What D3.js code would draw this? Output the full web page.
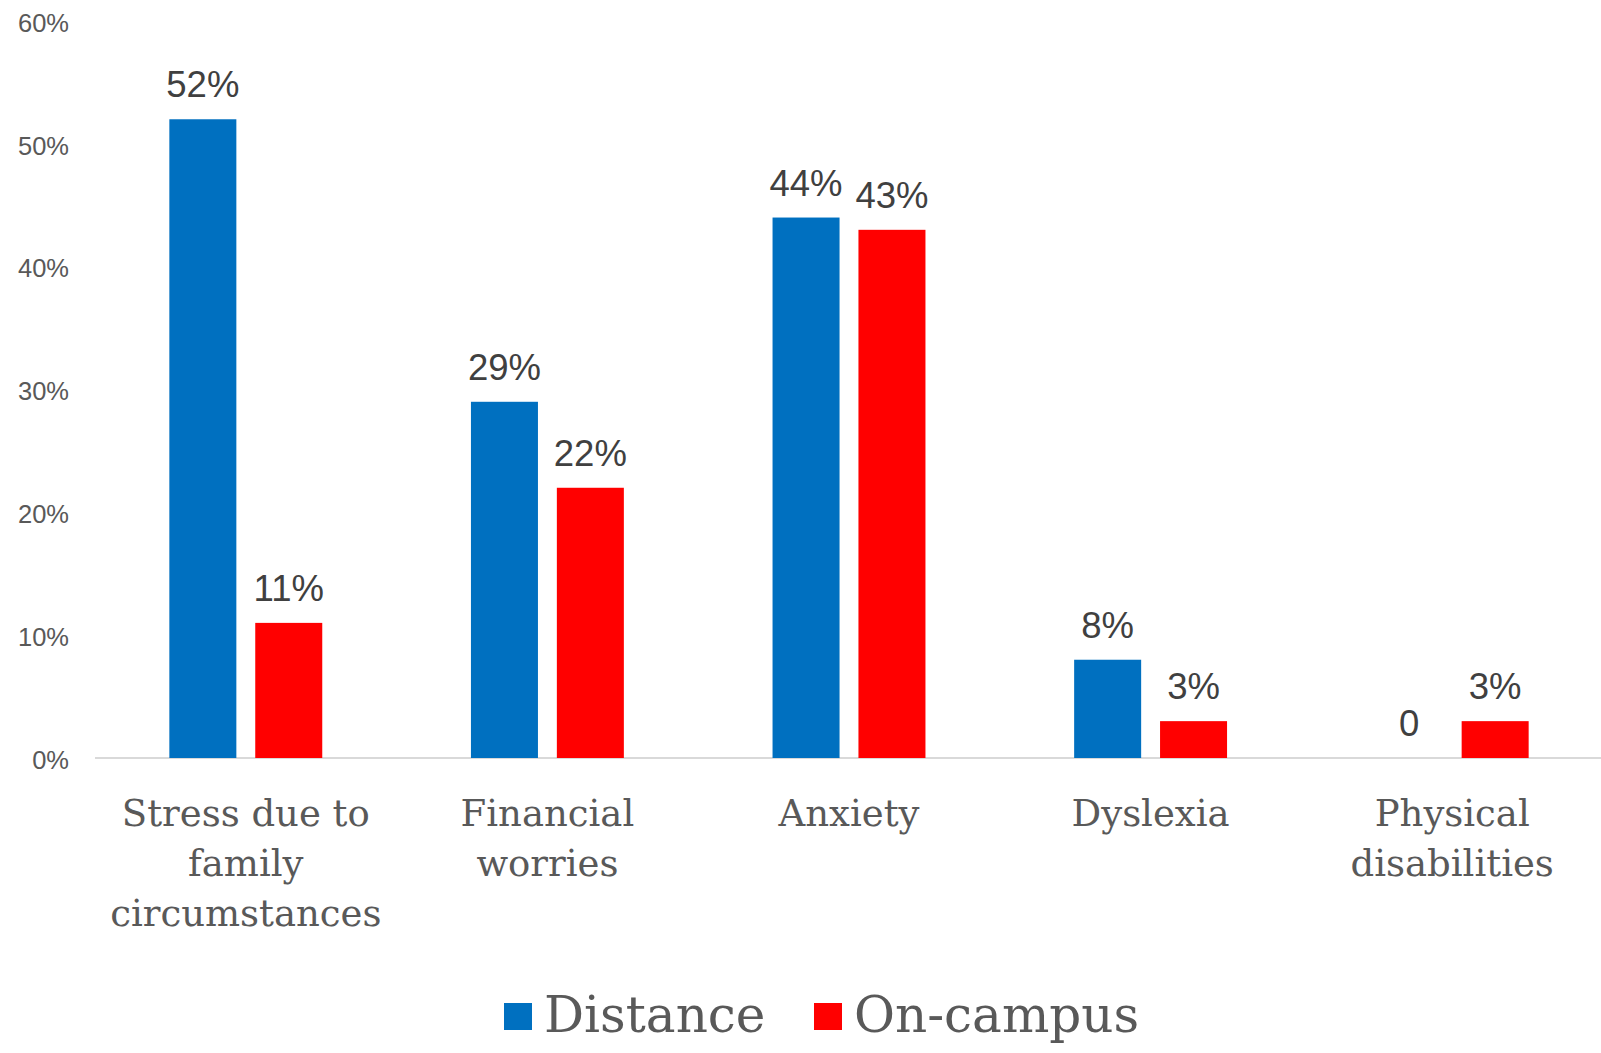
<!DOCTYPE html>
<html>
<head>
<meta charset="utf-8">
<script src="https://cdn.jsdelivr.net/npm/d3@7"></script>
<style>
  html, body { margin: 0; padding: 0; background: #fff; }
  svg { display: block; }
</style>
</head>
<body>
<svg id="chart" width="1601" height="1053"></svg>
<script>
// Categories (each label split into display lines)
const categories = [
  ["Stress due to", "family", "circumstances"],
  ["Financial", "worries"],
  ["Anxiety"],
  ["Dyslexia"],
  ["Physical", "disabilities"]
];
const seriesNames = ["Distance", "On-campus"];
const seriesColors = ["#0070C0", "#FF0000"];
// Percentage values per series, in category order
const distanceValues = [52, 29, 44, 8, 0];
const onCampusValues = [11, 22, 43, 3, 3];
const yTicks = [0, 10, 20, 30, 40, 50, 60];

const svg = d3.select("#chart");
const W = 1601, H = 1053;
const plot = { left: 95, right: 1603, top: 21, bottom: 758 };

const catKeys = categories.map(c => c.join(" "));
const x0 = d3.scaleBand().domain(catKeys).range([plot.left, plot.right]).padding(0);
const bw = x0.bandwidth();
const x1 = d3.scaleBand().domain(seriesNames)
  .range([bw * 0.2465, bw * 0.7535]).paddingInner(0.22).paddingOuter(0);
const y = d3.scaleLinear().domain([0, 60]).range([plot.bottom, plot.top]);

const sansFont = "'Liberation Sans', Arial, Helvetica, sans-serif";
const slabFont = "Rockwell, 'DejaVu Serif', serif";

// Y axis tick labels (no gridlines except the baseline)
const yAxis = d3.axisLeft(y).tickValues(yTicks).tickFormat(d => d + "%").tickSize(0).tickPadding(0);
const gy = svg.append("g").attr("transform", `translate(69,2)`).call(yAxis);
gy.select(".domain").remove();
gy.selectAll("text")
  .attr("font-family", sansFont)
  .attr("font-size", 25.5)
  .attr("fill", "#595959");

// Baseline
svg.append("line")
  .attr("x1", plot.left).attr("x2", W)
  .attr("y1", y(0)).attr("y2", y(0))
  .attr("stroke", "#d9d9d9").attr("stroke-width", 2);

const rows = catKeys.map((k, i) => ({
  key: k,
  vals: [distanceValues[i], onCampusValues[i]]
}));

const groups = svg.append("g").selectAll("g.cat")
  .data(rows).join("g")
  .attr("class", "cat")
  .attr("transform", d => `translate(${x0(d.key)},0)`);

const bars = groups.selectAll("g.bar")
  .data(d => d.vals.map((v, j) => ({ name: seriesNames[j], v, j })))
  .join("g").attr("class", "bar");

bars.append("rect")
  .attr("x", d => x1(d.name))
  .attr("width", x1.bandwidth())
  .attr("y", d => y(d.v))
  .attr("height", d => y(0) - y(d.v))
  .attr("fill", d => seriesColors[d.j]);

bars.append("text")
  .attr("x", d => x1(d.name) + x1.bandwidth() / 2)
  .attr("y", d => y(d.v) - 22)
  .attr("text-anchor", "middle")
  .attr("font-family", sansFont)
  .attr("font-size", 36.5)
  .attr("fill", "#404040")
  .text(d => d.v === 0 ? "0" : d.v + "%");

// Category labels
const xl = svg.append("g");
categories.forEach((lines, i) => {
  const cx = x0(catKeys[i]) + bw / 2;
  const t = xl.append("text")
    .attr("text-anchor", "middle")
    .attr("font-family", slabFont)
    .attr("font-size", 37)
    .attr("fill", "#595959");
  lines.forEach((ln, k) => {
    t.append("tspan").attr("x", cx).attr("y", 826 + k * 50).text(ln);
  });
});

// Legend
const legendItems = [
  { name: seriesNames[0], color: seriesColors[0], x: 504 },
  { name: seriesNames[1], color: seriesColors[1], x: 814 }
];
const lg = svg.append("g");
legendItems.forEach(it => {
  lg.append("rect").attr("x", it.x).attr("y", 1003).attr("width", 28).attr("height", 27).attr("fill", it.color);
  lg.append("text").attr("x", it.x + 40).attr("y", 1032)
    .attr("font-family", slabFont).attr("font-size", 50).attr("fill", "#595959")
    .text(it.name);
});
</script>
</body>
</html>
